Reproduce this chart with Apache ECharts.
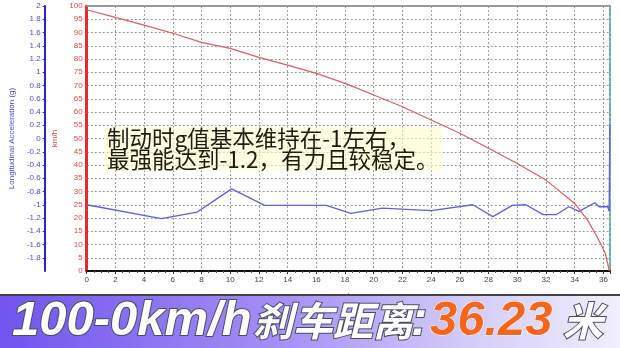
<!DOCTYPE html>
<html>
<head>
<meta charset="utf-8">
<script src="https://cdn.jsdelivr.net/npm/echarts@6/dist/echarts.min.js"></script>
<style>
html,body{margin:0;padding:0;background:#fff;}
#chart{width:620px;height:348px;}
</style>
</head>
<body>
<div id="chart"></div>
<script>
// ---- data ----
const speedDist = [0, 2, 4, 6, 8, 10, 12, 14, 16, 18, 20, 22, 24, 26, 28, 30, 32, 34, 34.9, 35.56, 36.13, 36.42];
const speedKmh  = [98.6, 95.7, 92.8, 89.7, 86.3, 84.0, 80.6, 77.7, 74.6, 70.8, 66.4, 62.0, 57.0, 52.0, 46.3, 40.6, 34.3, 25.5, 19.2, 12.9, 6.7, 0];
const gDist = [0, 5.2, 7.7, 10.1, 12.4, 16.7, 18.4, 20.6, 24.0, 26.9, 28.3, 29.65, 30.6, 31.8, 32.7, 33.6, 34.3, 35.4, 35.7, 36.3, 36.4, 36.45];
const gValue = [-1.0, -1.21, -1.11, -0.76, -1.01, -1.01, -1.13, -1.05, -1.09, -1.0, -1.18, -1.01, -1.0, -1.15, -1.15, -1.03, -1.1, -0.97, -1.03, -1.03, -1.1, 0.2];
const xRange = [0, 36.46];
const kmhRange = [0, 100];
const gRange = [-2, 2];
const annotationLines = ['制动时g值基本维持在-1左右，', '最强能达到-1.2，有力且较稳定。'];
const bannerLatin = '100-0km/h';
const bannerCjk = '刹车距离';
const bannerColon = ':';
const bannerValue = '36.23';
const bannerUnit = '米';

const chart = echarts.init(document.getElementById('chart'), null, {renderer: 'canvas'});
const lab = 'Liberation Sans';
const gridDash = {color: '#9a9a9a', type: [2, 2], width: 1};
const latinFont = 'italic bold 49px "Liberation Sans"';
const cjkFont = 'italic bold 40px "Noto Sans CJK SC"';
const bannerY = 321;

function bannerText(x, text, font, fill, stroke, lw) {
  return {
    type: 'text', x: x, y: bannerY, z: 11,
    style: {text: text, font: font, fill: fill, stroke: stroke, lineWidth: lw,
      textAlign: 'left', textVerticalAlign: 'middle', verticalAlign: 'middle'}
  };
}

const option = {
  backgroundColor: '#ffffff',
  animation: false,
  grid: {left: 75, top: 6, width: 535, height: 265, containLabel: false},
  xAxis: [
    {
      type: 'value', min: xRange[0], max: xRange[1], interval: 2,
      name: 'metres', nameLocation: 'middle', nameGap: 21,
      nameTextStyle: {color: '#444', fontSize: 8, fontFamily: lab},
      axisLine: {show: true, onZero: false, lineStyle: {color: '#111', width: 2}},
      axisTick: {show: true, length: 3, lineStyle: {color: '#333'}},
      minorTick: {show: true, splitNumber: 4, length: 2, lineStyle: {color: '#555'}},
      axisLabel: {color: '#444', fontSize: 8, fontFamily: lab, margin: 5, showMaxLabel: false},
      splitLine: {show: true, lineStyle: gridDash}
    },
    {
      type: 'value', position: 'top', min: xRange[0], max: xRange[1],
      axisLine: {show: true, onZero: false, lineStyle: {color: '#999', width: 2}},
      axisTick: {show: false}, axisLabel: {show: false}, splitLine: {show: false}
    }
  ],
  yAxis: [
    {
      type: 'value', position: 'left', offset: 42, min: gRange[0], max: gRange[1], interval: 0.2,
      name: 'Longitudinal Acceleration (g)', nameLocation: 'middle', nameGap: 24, nameRotate: 90,
      nameTextStyle: {color: '#4a4ad8', fontSize: 8, fontFamily: lab},
      axisLine: {show: true, onZero: false, lineStyle: {color: '#2626d0', width: 2}},
      axisTick: {show: true, length: 2, lineStyle: {color: '#2626d0'}},
      axisLabel: {color: '#4a4ad8', fontSize: 8, fontFamily: lab, margin: 4, showMinLabel: false,
        formatter: v => String(Math.round(v * 10) / 10)},
      splitLine: {show: false}
    },
    {
      type: 'value', position: 'left', offset: 0, min: kmhRange[0], max: kmhRange[1], interval: 5,
      name: 'km/h', nameLocation: 'middle', nameGap: 16, nameRotate: 90,
      nameTextStyle: {color: '#e04848', fontSize: 8, fontFamily: lab},
      axisLine: {show: true, onZero: false, lineStyle: {color: '#e62a2a', width: 3}},
      axisTick: {show: true, length: 2, lineStyle: {color: '#e04848'}},
      axisLabel: {color: '#e04848', fontSize: 8, fontFamily: lab, margin: 4},
      splitLine: {show: true, lineStyle: gridDash}
    },
    {
      type: 'value', position: 'right', min: kmhRange[0], max: kmhRange[1],
      axisLine: {show: true, onZero: false, lineStyle: {color: '#5fb0aa', width: 2, type: [3, 2]}},
      axisTick: {show: false}, axisLabel: {show: false}, splitLine: {show: false}
    }
  ],
  series: [
    {
      type: 'line', name: 'speed', xAxisIndex: 0, yAxisIndex: 1, symbol: 'none', smooth: false,
      data: speedDist.map((d, i) => [d, speedKmh[i]]),
      lineStyle: {color: '#e35b5b', width: 1.2}, z: 3
    },
    {
      type: 'line', name: 'g', xAxisIndex: 0, yAxisIndex: 0, symbol: 'none',
      data: gDist.map((d, i) => [d, gValue[i]]),
      lineStyle: {color: '#5f5fe0', width: 1.3}, z: 4
    }
  ],
  graphic: [
    {
      type: 'text', left: 104, top: 127, z: 10,
      style: {
        text: annotationLines.join('\n'),
        fill: '#1c1c10', font: '22.5px "Noto Sans CJK SC"', lineHeight: 21,
        backgroundColor: 'rgba(255,253,205,0.6)', padding: [1, 3, 1, 3]
      }
    },
    {
      type: 'rect', left: 0, top: 294, z: 10,
      shape: {width: 620, height: 2},
      style: {fill: '#444'}
    },
    {
      type: 'rect', left: 0, top: 296, z: 10,
      shape: {width: 620, height: 52},
      style: {
        fill: new echarts.graphic.LinearGradient(0, 0, 1, 0, [
          {offset: 0, color: '#7054ee'},
          {offset: 0.45, color: '#a58ff4'},
          {offset: 0.75, color: '#d3cbf8'},
          {offset: 1, color: '#f1eefd'}
        ])
      }
    },
    bannerText(12, bannerLatin, latinFont, '#ffffff', '#4a4a66', 2),
    bannerText(253, bannerCjk, cjkFont, '#ffffff', '#4a4a66', 2),
    bannerText(411, bannerColon, latinFont, '#ffffff', '#4a4a66', 2),
    bannerText(430, bannerValue, latinFont, '#f4661c', '#ffffff', 1),
    bannerText(563, bannerUnit, cjkFont, '#ffffff', '#4a4a66', 2)
  ]
};
chart.setOption(option);
</script>
</body>
</html>
